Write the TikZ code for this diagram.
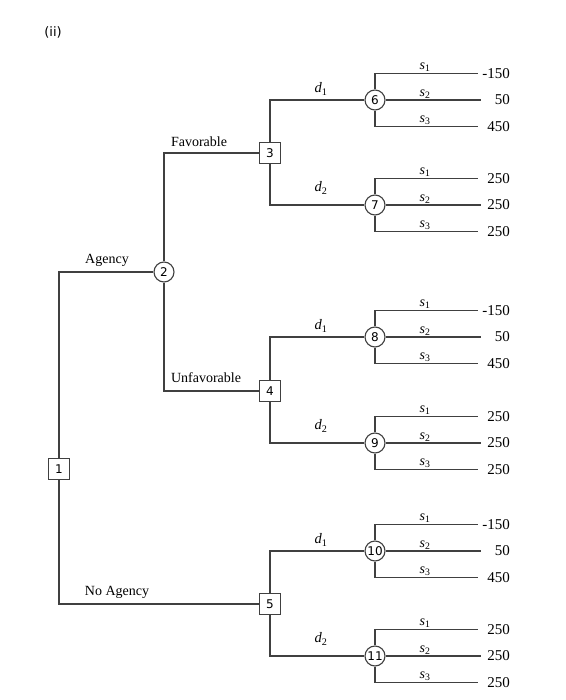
\documentclass[tikz,border=0pt]{standalone}
\usepackage{fontspec}
\setmainfont{Liberation Serif}
\newfontfamily\numfont{DejaVu Sans}
\begin{document}
\begin{tikzpicture}[x=1pt,y=-1pt,
  edge/.style={line width=1.3pt, draw=black!75},
  dnode/.style={draw=black!75, line width=1.1pt, fill=white, minimum size=21pt, inner sep=0pt, font=\numfont\fontsize{12}{13}\selectfont},
  cnode/.style={draw=black!75, line width=1.1pt, fill=white, circle, minimum size=20pt, inner sep=0pt, font=\numfont\fontsize{12}{13}\selectfont},
  lab/.style={inner sep=0pt, font=\fontsize{14}{16}\selectfont},
  val/.style={anchor=east, inner sep=0pt, font=\fontsize{15}{17}\selectfont},
  slab/.style={anchor=south, inner sep=0pt, font=\fontsize{14}{15}\selectfont},
  dlab/.style={inner sep=0pt, font=\fontsize{14.5}{16}\selectfont}]
\useasboundingbox (0,0) rectangle (565,700);
\node[inner sep=0pt, font=\numfont\fontsize{13}{15}\selectfont] (title) at (53,32) {(ii)};
% decision and chance nodes
\node[dnode] (n1) at (59,469) {1};
\node[cnode] (n2) at (164,272) {2};
\node[dnode] (n3) at (270,153) {3};
\node[dnode] (n4) at (270,391) {4};
\node[dnode] (n5) at (270,604) {5};
\foreach \n/\y in {6/100,7/205,8/337,9/443,10/551,11/656}{
  \node[cnode] (c\n) at (375,\y) {\n};
}
% main edges
\draw[edge] (n1.north) |- (n2.west);
\draw[edge] (n1.south) |- (n5.west);
\draw[edge] (n2.north) |- (n3.west);
\draw[edge] (n2.south) |- (n4.west);
\draw[edge] (n3.north) |- (c6.west);
\draw[edge] (n3.south) |- (c7.west);
\draw[edge] (n4.north) |- (c8.west);
\draw[edge] (n4.south) |- (c9.west);
\draw[edge] (n5.north) |- (c10.west);
\draw[edge] (n5.south) |- (c11.west);
% labels
\node[lab] (lagency) at (107,260) {Agency};
\node[lab] (lnoagency) at (117,592) {No Agency};
\node[lab] (lfav) at (199,142) {Favorable};
\node[lab] (lunfav) at (206,378) {Unfavorable};
\foreach \n/\y in {6/100,8/337,10/551}{
  \node[dlab] (d\n) at (321,\y-11) {\textit{d}\textsubscript{1}};
}
\foreach \n/\y in {7/205,9/443,11/656}{
  \node[dlab] (d\n) at (321,\y-17) {\textit{d}\textsubscript{2}};
}
% outcome branches
\foreach \n/\y/\va/\vb/\vc in {6/100/-150/50/450,7/205/250/250/250,8/337/-150/50/450,9/443/250/250/250,10/551/-150/50/450,11/656/250/250/250}{
  \coordinate (e\n a) at (478,\y-26.5);
  \coordinate (e\n b) at (481,\y);
  \coordinate (e\n c) at (478,\y+26.5);
  \draw[edge] (c\n.north) |- (e\n a);
  \draw[edge] (c\n.east) -- (e\n b);
  \draw[edge] (c\n.south) |- (e\n c);
  \node[val] (v\n a) at (510,\y-26.5) {\va};
  \node[val] (v\n b) at (510,\y) {\vb};
  \node[val] (v\n c) at (510,\y+26.5) {\vc};
  \node[slab] (s\n a) at (425,\y-28) {\textit{s}\textsubscript{1}};
  \node[slab] (s\n b) at (425,\y-1.5) {\textit{s}\textsubscript{2}};
  \node[slab] (s\n c) at (425,\y+25) {\textit{s}\textsubscript{3}};
}
\end{tikzpicture}
\end{document}
